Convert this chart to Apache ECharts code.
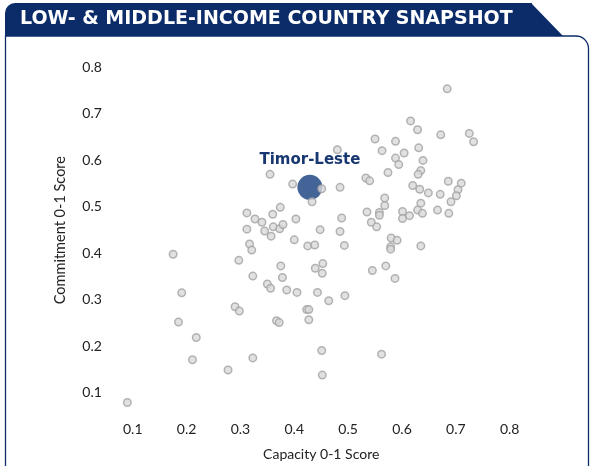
<!DOCTYPE html>
<html>
<head>
<meta charset="utf-8">
<script src="https://cdn.jsdelivr.net/npm/echarts@6/dist/echarts.min.js"></script>
<style>
  html, body { margin: 0; padding: 0; background: #fff; }
  #snapshotChart { width: 590px; height: 466px; }
</style>
</head>
<body>
<div id="snapshotChart"></div>
<script>
  // country scores
  const capacity = [
    0.684, 0.616, 0.629, 0.672, 0.725, 0.733, 0.550, 0.588, 0.563, 0.631,
    0.604, 0.588, 0.594, 0.639, 0.480, 0.574, 0.635, 0.630, 0.355, 0.397,
    0.451, 0.485, 0.533, 0.540, 0.620, 0.633, 0.649, 0.671, 0.686, 0.710,
    0.704, 0.701, 0.691, 0.568, 0.568, 0.635, 0.433, 0.374, 0.312, 0.327,
    0.340, 0.360, 0.403, 0.488, 0.535, 0.558, 0.558, 0.543, 0.553, 0.601,
    0.601, 0.614, 0.629, 0.638, 0.666, 0.687, 0.312, 0.345, 0.361, 0.373,
    0.379, 0.357, 0.448, 0.485, 0.400, 0.317, 0.321, 0.425, 0.438, 0.493,
    0.580, 0.591, 0.579, 0.579, 0.635, 0.297, 0.375, 0.439, 0.453, 0.452,
    0.545, 0.570, 0.587, 0.323, 0.378, 0.350, 0.356, 0.386, 0.405, 0.443,
    0.464, 0.494, 0.290, 0.298, 0.423, 0.427, 0.427, 0.367, 0.372, 0.451,
    0.323, 0.277, 0.452, 0.562, 0.175, 0.191, 0.185, 0.218, 0.211, 0.090
  ];
  const commitment = [
    0.754, 0.685, 0.666, 0.655, 0.658, 0.640, 0.646, 0.641, 0.621, 0.627,
    0.616, 0.605, 0.591, 0.600, 0.623, 0.574, 0.578, 0.570, 0.570, 0.549,
    0.539, 0.542, 0.562, 0.556, 0.546, 0.538, 0.530, 0.527, 0.555, 0.551,
    0.537, 0.524, 0.511, 0.519, 0.503, 0.508, 0.511, 0.499, 0.487, 0.474,
    0.467, 0.484, 0.474, 0.476, 0.489, 0.488, 0.482, 0.467, 0.457, 0.490,
    0.475, 0.481, 0.493, 0.486, 0.493, 0.486, 0.452, 0.448, 0.457, 0.453,
    0.462, 0.437, 0.451, 0.447, 0.429, 0.420, 0.407, 0.416, 0.418, 0.417,
    0.433, 0.428, 0.414, 0.409, 0.416, 0.385, 0.373, 0.368, 0.378, 0.357,
    0.363, 0.373, 0.346, 0.351, 0.348, 0.334, 0.325, 0.321, 0.316, 0.316,
    0.298, 0.309, 0.285, 0.276, 0.279, 0.279, 0.257, 0.255, 0.251, 0.191,
    0.175, 0.149, 0.138, 0.183, 0.398, 0.315, 0.252, 0.219, 0.171, 0.079
  ];
  const highlightName = ['Timor-Leste'];
  const highlightCapacity = [0.429];
  const highlightCommitment = [0.542];
  const tickValues = [0.1, 0.2, 0.3, 0.4, 0.5, 0.6, 0.7, 0.8];

  const navy = '#0c2c69';
  const textFont = 'Lato';

  // outline of the box, with a rounded top-right corner
  const outline = [[5.5, 470], [5.5, 36]];
  for (let k = 0; k <= 8; k++) {
    const a = -Math.PI / 2 + (k / 8) * Math.PI / 2;
    outline.push([576 + 12.5 * Math.cos(a), 48.5 + 12.5 * Math.sin(a)]);
  }
  outline.push([588.5, 470]);

  const chart = echarts.init(document.getElementById('snapshotChart'), null, { renderer: 'canvas' });

  const option = {
    animation: false,
    backgroundColor: '#fff',
    graphic: [
      // header banner
      {
        type: 'rect',
        z: 10,
        shape: { x: 5, y: 3, width: 527, height: 33, r: [10, 0, 0, 0] },
        style: { fill: navy }
      },
      {
        type: 'polygon',
        z: 10,
        shape: { points: [[531, 3], [563, 36], [531, 36]] },
        style: { fill: navy }
      },
      {
        type: 'text',
        z: 11,
        left: 20,
        top: 10,
        style: {
          text: 'LOW- & MIDDLE-INCOME COUNTRY SNAPSHOT',
          fill: '#fff',
          font: 'bold 19px "DejaVu Sans"'
        }
      },
      {
        type: 'polyline',
        z: 9,
        shape: { points: outline },
        style: { fill: null, stroke: navy, lineWidth: 1.3 }
      }
    ],
    grid: { left: 105.8, right: 53.4, top: 44.2, bottom: 45.5 },
    xAxis: {
      type: 'value',
      min: 0.05,
      max: 0.85,
      name: 'Capacity 0-1 Score',
      nameLocation: 'middle',
      nameGap: 31,
      nameTextStyle: { fontFamily: textFont, fontSize: 14, color: '#222' },
      axisLine: { show: false },
      axisTick: { show: false },
      splitLine: { show: false },
      axisLabel: {
        customValues: tickValues,
        formatter: v => v.toFixed(1),
        margin: 6,
        fontFamily: textFont,
        fontSize: 14,
        color: '#222'
      }
    },
    yAxis: {
      type: 'value',
      min: 0.05,
      max: 0.85,
      name: 'Commitment 0-1 Score',
      nameLocation: 'middle',
      nameGap: 38,
      nameTextStyle: { fontFamily: textFont, fontSize: 14.5, color: '#222' },
      axisLine: { show: false },
      axisTick: { show: false },
      splitLine: { show: false },
      axisLabel: {
        customValues: tickValues,
        formatter: v => v.toFixed(1),
        margin: 4,
        fontFamily: textFont,
        fontSize: 14,
        color: '#222'
      }
    },
    series: [
      {
        name: 'highlight',
        type: 'scatter',
        z: 1,
        symbolSize: 25,
        itemStyle: { color: '#3a5c92', opacity: 0.95 },
        label: {
          show: true,
          position: 'top',
          distance: 7,
          formatter: p => p.data.name,
          color: navy,
          fontFamily: 'DejaVu Sans',
          fontWeight: 'bold',
          fontSize: 15
        },
        data: highlightCapacity.map((c, i) => ({ name: highlightName[i], value: [c, highlightCommitment[i]] }))
      },
      {
        name: 'countries',
        type: 'scatter',
        z: 2,
        symbolSize: 7.5,
        itemStyle: { color: '#dadada', borderColor: '#a3a3a3', borderWidth: 1.5 },
        data: capacity.map((c, i) => [c, commitment[i]])
      }
    ]
  };

  chart.setOption(option);
</script>
</body>
</html>
